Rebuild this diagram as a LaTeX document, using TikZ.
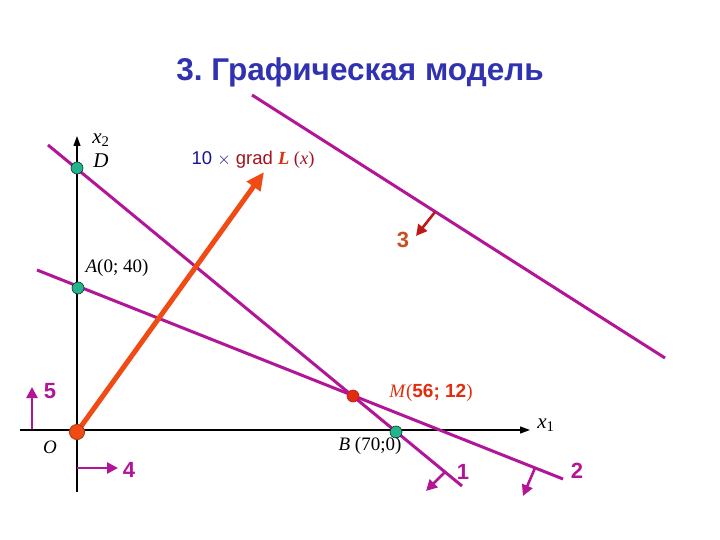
\documentclass[tikz,border=0pt]{standalone}
\usepackage{fontspec}
\setmainfont{Liberation Serif}
\setsansfont{Liberation Sans}
\usetikzlibrary{arrows.meta}
\definecolor{mag}{RGB}{178,22,150}
\definecolor{ttl}{RGB}{48,50,175}
\definecolor{gradc}{RGB}{240,75,20}
\definecolor{ptg}{RGB}{35,180,140}
\definecolor{darkred}{RGB}{190,25,25}
\definecolor{brn}{RGB}{200,80,30}
\definecolor{mred}{RGB}{225,45,15}
\definecolor{navy}{RGB}{20,20,150}
\definecolor{gred}{RGB}{160,20,30}
\tikzset{
  lim/.style={draw=mag, line width=3pt},
  axis/.style={draw=black, line width=1.2pt},
  gpt/.style={circle, fill=ptg, draw=black!70!ptg, line width=0.6pt, minimum size=12pt, inner sep=0pt},
  rpt/.style={circle, fill=gradc, draw=gradc!70!black, line width=0.6pt, minimum size=12pt, inner sep=0pt},
  lbl/.style={inner sep=0pt, font=\fontsize{19}{22}\selectfont},
  num/.style={inner sep=0pt, font=\sffamily\bfseries\fontsize{22}{26}\selectfont, text=mag},
  narr/.style={draw=mag, line width=2.6pt, -{Triangle[length=11pt,width=11pt]}},
}
\begin{document}
\begin{tikzpicture}[x=1pt,y=-1pt]
\useasboundingbox (0,0) rectangle (720,540);
% title
\node[inner sep=0pt, font=\sffamily\bfseries\fontsize{31.5}{36}\selectfont, text=ttl] (title) at (360,72) {3.\ Графическая модель};
% axes
\coordinate (yb) at (77,492);
\coordinate (yt) at (77,136);
\coordinate (xl) at (20,430);
\coordinate (xr) at (530,430);
\draw[axis, -{Triangle[length=10pt,width=7pt]}] (yb) -- (yt);
\draw[axis, -{Triangle[length=10pt,width=7pt]}] (xl) -- (xr);
\node[lbl, font=\fontsize{21}{24}\selectfont] (x2) at (101,140) {\textit{x}\textsubscript{2}};
\node[lbl, font=\fontsize{21}{24}\selectfont] (x1) at (546,425) {\textit{x}\textsubscript{1}};
% constraint lines
\coordinate (l1a) at (48,145);
\coordinate (l1b) at (462,486);
\coordinate (l2a) at (37,270);
\coordinate (l2b) at (563,479);
\coordinate (l3a) at (252,95);
\coordinate (l3b) at (665,358);
\draw[lim] (l1a) -- (l1b);
\draw[lim] (l2a) -- (l2b);
\draw[lim] (l3a) -- (l3b);
% gradient arrow
\node[rpt, minimum size=15pt] (O) at (77,432) {};
\coordinate (gt) at (264,172);
\draw[draw=gradc, line width=5pt, -{Triangle[length=18pt,width=16pt]}] (O.center) -- (gt);
\node[rpt, minimum size=15pt] (Obig) at (77,432) {};
\node[inner sep=0pt, font=\fontsize{18.5}{22}\selectfont] (glab) at (253,160)
  {{\sffamily\color{navy}10 $\times$ }{\sffamily\color{gred}grad }{\color{mred}\bfseries\itshape L }{\color{gred}(\textit{x})}};
% normal arrows
\coordinate (n3a) at (435,212);
\coordinate (n3b) at (416,236);
\draw[draw=darkred, line width=2.6pt, -{Triangle[length=11pt,width=11pt]}] (n3a) -- (n3b);
\node[num, text=brn] (t3) at (403,240) {3};
\coordinate (n1a) at (445,472);
\coordinate (n1b) at (426,491);
\draw[narr] (n1a) -- (n1b);
\node[num] (t1) at (463,472) {1};
\coordinate (n2a) at (535,468);
\coordinate (n2b) at (523,496);
\draw[narr] (n2a) -- (n2b);
\node[num] (t2) at (577,471) {2};
\coordinate (n5a) at (32,429);
\coordinate (n5b) at (32,387);
\draw[narr] (n5a) -- (n5b);
\node[num] (t5) at (50,391) {5};
\coordinate (n4a) at (77,468);
\coordinate (n4b) at (118,468);
\draw[narr] (n4a) -- (n4b);
\node[num] (t4) at (129,470) {4};
% points
\node[gpt] (D) at (77,168) {};
\node[gpt] (A) at (78,288) {};
\node[gpt] (B) at (396,432) {};
\node[rpt, fill=mred, draw=darkred] (M) at (353,396) {};
\node[lbl, font=\fontsize{21}{24}\selectfont] (Dl) at (101,161) {\textit{D}};
\node[lbl] (Al) at (117,268) {\textit{A}(0; 40)};
\node[lbl] (Ol) at (50,447) {\textit{O}};
\node[lbl] (Bl) at (370,446) {\textit{B} (70;0)};
\node[lbl, text=mred] (Ml) at (431,393) {\textit{M}(\textsf{\bfseries 56; 12})};
\end{tikzpicture}
\end{document}
